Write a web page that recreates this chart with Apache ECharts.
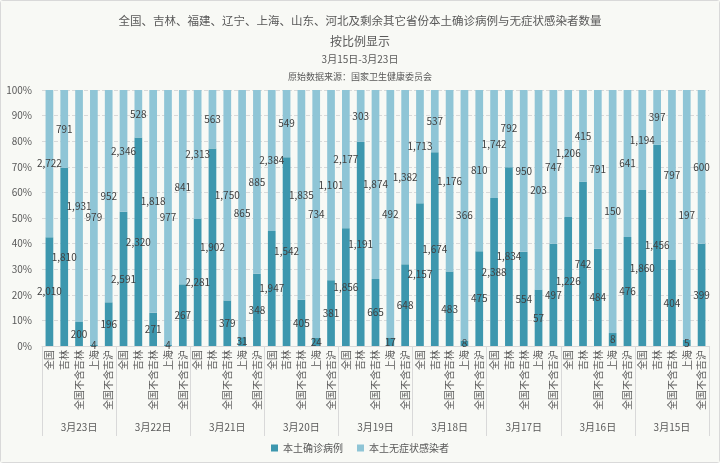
<!DOCTYPE html>
<html>
<head>
<meta charset="utf-8">
<script src="https://cdn.jsdelivr.net/npm/echarts@6/dist/echarts.min.js"></script>
<style>
  html, body { margin: 0; padding: 0; background: #f8f9f5; }
  #main { width: 720px; height: 463px; box-sizing: border-box; border: 1px solid #d9d9d9; border-radius: 3px; }
</style>
</head>
<body>
<div id="main"></div>
<script>
var dates = ['3月23日', '3月22日', '3月21日', '3月20日', '3月19日', '3月18日', '3月17日', '3月16日', '3月15日'];
var regions = ['全国', '吉林', '全国不含吉林', '上海', '全国不含吉沪'];
// 每行一个日期，顺序同 regions
var confirmed = [
  [2010, 1810, 200, 4, 196],
  [2591, 2320, 271, 4, 267],
  [2281, 1902, 379, 31, 348],
  [1947, 1542, 405, 24, 381],
  [1856, 1191, 665, 17, 648],
  [2157, 1674, 483, 8, 475],
  [2388, 1834, 554, 57, 497],
  [1226, 742, 484, 8, 476],
  [1860, 1456, 404, 5, 399]
];
var asymptomatic = [
  [2722, 791, 1931, 979, 952],
  [2346, 528, 1818, 977, 841],
  [2313, 563, 1750, 865, 885],
  [2384, 549, 1835, 734, 1101],
  [2177, 303, 1874, 492, 1382],
  [1713, 537, 1176, 366, 810],
  [1742, 792, 950, 203, 747],
  [1206, 415, 791, 150, 641],
  [1194, 397, 797, 197, 600]
];

var font = '"Noto Sans CJK SC", "Noto Sans", sans-serif';
var txt = '#595959';

var cats = [], confRaw = [], asymRaw = [], confPct = [], asymPct = [];
dates.forEach(function (d, i) {
  regions.forEach(function (r, j) {
    var c = confirmed[i][j], a = asymptomatic[i][j];
    cats.push(r);
    confRaw.push(c);
    asymRaw.push(a);
    confPct.push(c / (c + a) * 100);
    asymPct.push(a / (c + a) * 100);
  });
});

function fmt(raw) {
  return function (p) { return raw[p.dataIndex].toLocaleString('en-US'); };
}

var myChart = echarts.init(document.getElementById('main'));

option = {
  backgroundColor: '#f8f9f5',
  textStyle: { fontFamily: font },
  title: [
    { text: '全国、吉林、福建、辽宁、上海、山东、河北及剩余其它省份本土确诊病例与无症状感染者数量', left: 'center', top: 9,
      textStyle: { fontSize: 11.5, fontWeight: 'normal', color: txt, fontFamily: font } },
    { text: '按比例显示', left: 'center', top: 29,
      textStyle: { fontSize: 12, fontWeight: 'normal', color: txt, fontFamily: font } },
    { text: '3月15日-3月23日', left: 'center', top: 48,
      textStyle: { fontSize: 10, fontWeight: 'normal', color: txt, fontFamily: font } },
    { text: '原始数据来源：国家卫生健康委员会', left: 'center', top: 66,
      textStyle: { fontSize: 9, fontWeight: 'normal', color: txt, fontFamily: font } }
  ],
  legend: {
    bottom: 4,
    left: 'center',
    icon: 'rect',
    itemWidth: 7,
    itemHeight: 7,
    itemGap: 14,
    textStyle: { fontSize: 10, color: txt, fontFamily: font },
    data: ['本土确诊病例', '本土无症状感染者']
  },
  grid: { left: 41, right: 10, top: 89, bottom: 116 },
  xAxis: [
    {
      type: 'category',
      data: cats,
      axisLine: { lineStyle: { color: '#d9d9d9' } },
      axisTick: { show: false },
      axisLabel: { rotate: 90, interval: 0, fontSize: 10, color: txt, margin: 4, fontFamily: font }
    },
    {
      type: 'category',
      position: 'bottom',
      data: dates,
      axisLine: { show: false },
      axisTick: { show: true, length: 90, lineStyle: { color: '#d9d9d9' } },
      axisLabel: { interval: 0, fontSize: 10, color: txt, margin: 76, fontFamily: font }
    }
  ],
  yAxis: {
    type: 'value',
    min: 0,
    max: 100,
    interval: 10,
    axisLine: { show: false },
    axisTick: { show: false },
    splitLine: { lineStyle: { color: '#d9d9d9', type: 'dashed' } },
    axisLabel: { formatter: '{value}%', fontSize: 10, color: txt, margin: 10, fontFamily: font }
  },
  series: [
    {
      name: '本土确诊病例',
      type: 'bar',
      stack: 'total',
      barWidth: '52%',
      data: confPct,
      itemStyle: { color: '#3d97ae' },
      label: { show: true, position: 'inside', formatter: fmt(confRaw), fontSize: 10, color: '#404040', fontFamily: font }
    },
    {
      name: '本土无症状感染者',
      type: 'bar',
      stack: 'total',
      barWidth: '52%',
      data: asymPct,
      itemStyle: { color: '#8fc5d6' },
      label: { show: true, position: 'inside', formatter: fmt(asymRaw), fontSize: 10, color: '#404040', fontFamily: font }
    }
  ]
};

myChart.setOption(option);
</script>
</body>
</html>
